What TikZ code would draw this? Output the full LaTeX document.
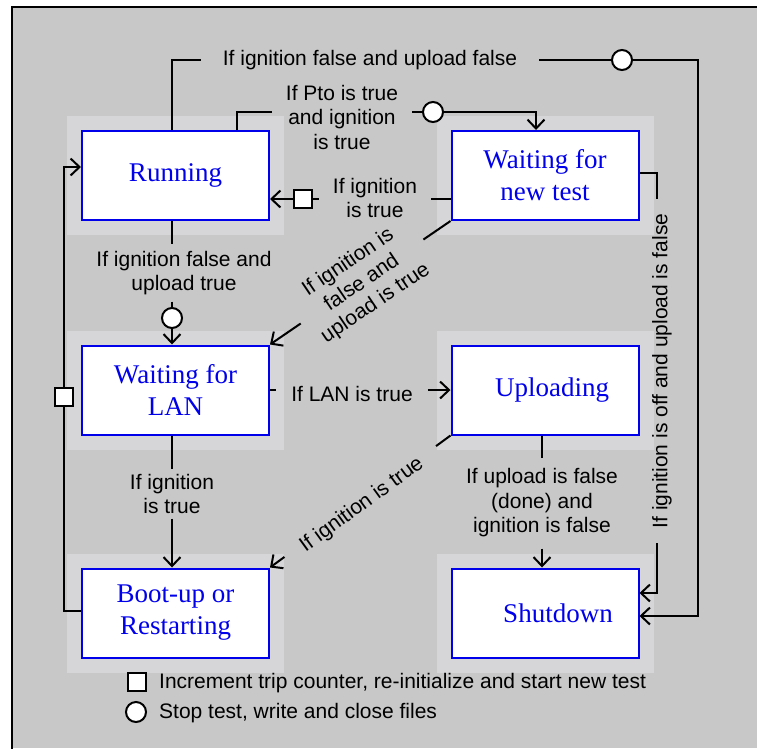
\documentclass[tikz,border=0pt]{standalone}
\usepackage{fontspec}
\setmainfont{Liberation Sans}
\newfontfamily\boxfont{Liberation Serif}
\usetikzlibrary{arrows.meta,calc,backgrounds}
\definecolor{bggray}{RGB}{200,200,200}
\definecolor{halo}{RGB}{214,214,217}
\definecolor{stblue}{RGB}{0,0,235}
\tikzset{
  state/.style={draw=stblue, fill=white, line width=2pt, minimum width=187pt, minimum height=89pt,
    inner sep=0pt, font=\boxfont\fontsize{27}{32}\selectfont, text=stblue, align=center},
  lab/.style={font=\fontsize{21}{24.5}\selectfont, align=center, inner sep=0pt},
  conn/.style={line width=2pt},
  arr/.style={conn, -{Straight Barb[length=9pt,width=17pt]}},
  circ/.style={circle, draw, line width=2pt, fill=white, minimum size=20pt, inner sep=0pt},
  sq/.style={rectangle, draw, line width=2pt, fill=white, minimum size=18pt, inner sep=0pt},
}
\begin{document}
\begin{tikzpicture}[x=1pt,y=-1pt]
\useasboundingbox (0,0) rectangle (757,748);

% states
\node[state] (run)  at (175.5,175.5) {Running};
\node[state] (wnt)  at (545,175.5)   {Waiting for\\new test};
\node[state] (wl)   at (175.5,390)   {Waiting for\\LAN};
\node[state] (upl)  at (545,390)     {\hspace*{14pt}Uploading};
\node[state] (boot) at (175.5,613)   {Boot-up or\\Restarting};
\node[state] (shut) at (545,613)     {\hspace*{26pt}Shutdown};

% markers
\node[circ] (c1) at (622,60) {};
\node[circ] (c2) at (433,112) {};
\node[circ] (c3) at (172,318) {};
\node[sq]   (s1) at (303,199) {};
\node[sq]   (s2) at (64,397) {};

% labels
\node[lab, inner xsep=22pt] (t1) at (370,60) {If ignition false and upload false};
\node[lab, inner xsep=14pt] (p1) at (342,117) {If Pto is true\\and ignition\\is true};
\node[lab, inner xsep=14pt] (i1) at (375,198) {If ignition\\is true};
\node[lab, rotate=34] (d1) at (362,283) {If ignition is\\false and\\upload is true};
\node[lab, inner ysep=6.5pt] (l2) at (184,273) {If ignition false and\\upload true};
\node[lab, inner xsep=15pt] (l3) at (352,394) {If LAN is true};
\node[lab, rotate=36] (d2) at (362,505) {If ignition is true};
\node[lab, inner ysep=4.5pt] (l4) at (172,494) {If ignition\\is true};
\node[lab, inner ysep=11pt] (l5) at (542,503) {If upload is false\\(done) and\\ignition is false};
\node[lab, rotate=90, inner xsep=14.5pt] (v1) at (662,371) {If ignition is off and upload is false};

% connectors
\draw[conn] (c3 |- run.north) |- (t1.west);
\draw[conn] (t1.east) -- (c1.west);
\draw[arr] (c1.east) -- ++(65,0) |- ($(shut.east)+(0,3)$);

\draw[conn] ($(run.north)+(61.5,0)$) |- ($(p1.west)+(0,-5)$);
\draw[conn] ($(p1.east)+(0,-5)$) -- (c2.west);
\draw[arr] (c2.east) -| ($(wnt.north)+(-9,0)$);

\draw[conn] (wnt.west |- s1) -- (i1.east |- s1);
\draw[conn] (i1.west |- s1) -- (s1.east);
\draw[arr] (s1.west) -- (run.east |- s1.west);

\draw[conn] (wnt.south west) -- ($(wnt.south west)!0.15!(wl.north east)$);
\draw[arr] ($(wnt.south west)!0.83!(wl.north east)$) -- (wl.north east);

\draw[conn] (c3 |- run.south) -- (c3 |- l2.north);
\draw[conn] (c3 |- l2.south) -- (c3.north);
\draw[arr] (c3.south) -- (c3 |- wl.north);

\draw[conn] (wl.east) -- (wl.east -| l3.west);
\draw[arr] (upl.west -| l3.east) -- (upl.west);

\draw[conn] (upl.south west) -- ($(upl.south west)!0.08!(boot.north east)$);
\draw[arr] ($(upl.south west)!0.92!(boot.north east)$) -- (boot.north east);

\draw[conn] (l4.north |- wl.south) -- (l4.north);
\draw[arr] (l4.south) -- (l4.south |- boot.north);

\draw[conn] (l5.north |- upl.south) -- (l5.north);
\draw[arr] (l5.south) -- (l5.south |- shut.north);

\draw[conn] ($(wnt.east)+(0,-2.5)$) -| ($(v1.east)+(-5,0)$);
\draw[arr] ($(v1.west)+(-5,0)$) |- ($(shut.east)+(0,-20)$);

\draw[conn] ($(boot.west)+(0,-2)$) -| (s2.south);
\draw[arr] (s2.north) |- ($(run.west)+(0,-8.5)$);

% legend
\node[sq] (s3) at (137,682) {};
\node[lab, anchor=west] (t3) at (159,683) {Increment trip counter, re-initialize and start new test};
\node[circ] (c4) at (136,712) {};
\node[lab, anchor=west] (t4) at (159,713) {Stop test, write and close files};

% background
\begin{scope}[on background layer]
  \fill[white] (0,0) rectangle (757,748);
  \fill[bggray] (12,7) rectangle (757,748);
  \foreach \n in {run,wnt,wl,upl,boot,shut}{
    \fill[halo] ($(\n.south west)+(-14,14)$) rectangle ($(\n.north east)+(14,-14)$);
  }
  \draw[line width=2.5pt] (12,770) -- (12,7) -- (770,7);
\end{scope}
\end{tikzpicture}
\end{document}
